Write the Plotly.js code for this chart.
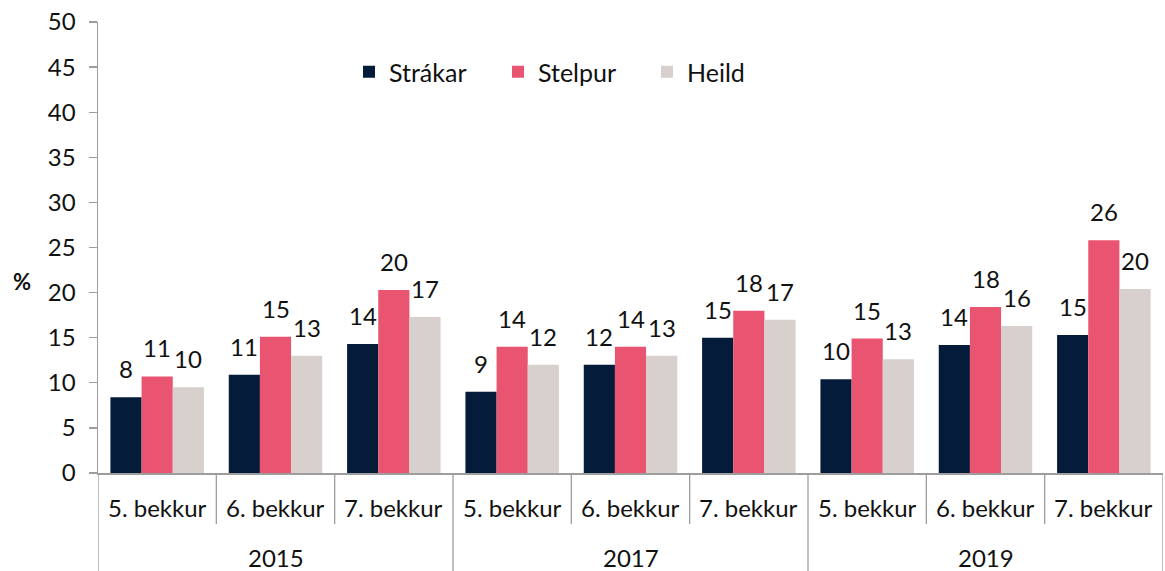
<!DOCTYPE html>
<html>
<head>
<meta charset="utf-8">
<script src="https://cdn.plot.ly/plotly-3.0.1.min.js"></script>
<style>html,body{margin:0;padding:0;background:#fff;}#chart{width:1165px;height:571px;}</style>
</head>
<body>
<div id="chart"></div>
<script>
const years = ["2015","2015","2015","2017","2017","2017","2019","2019","2019"];
const grades = ["5. bekkur","6. bekkur","7. bekkur","5. bekkur","6. bekkur","7. bekkur","5. bekkur","6. bekkur","7. bekkur"];
const strakar = [8.4, 10.9, 14.3, 9.0, 12.0, 15.0, 10.4, 14.2, 15.3];
const stelpur = [10.7, 15.1, 20.3, 14.0, 14.0, 18.0, 14.9, 18.4, 25.8];
const heild = [9.5, 13.0, 17.3, 12.0, 13.0, 17.0, 12.6, 16.3, 20.4];
const seriesNames = ["Strákar","Stelpur","Heild"];
const colors = ["#051b3a","#e95471","#d8d0cd"];

const FONT = "Lato, 'Open Sans', sans-serif";
const TXT = "#111111";
const AX = "#9d9d9d";
const FS = 24;
const BARGAP = 0.21;
const vals = [strakar, stelpur, heild];
const idx = grades.map((_,i)=>i);

const traces = vals.map((v,k)=>({
  type:"bar",
  name: seriesNames[k],
  x: idx,
  y: v,
  marker:{color:colors[k]},
  hoverinfo:"skip"
}));

const W=1165,H=571,ML=98,MR=2,MT=22,MB=98;
const plotH = H-MT-MB;

const annotations = [];
const barW = (1-BARGAP)/vals.length;
vals.forEach((v,k)=>{
  v.forEach((y,i)=>{
    annotations.push({x: i + (k-(vals.length-1)/2)*barW, y: y, xref:"x", yref:"y",
      text: String(Math.round(y)), showarrow:false, yanchor:"bottom", xanchor:"center", yshift:12,
      font:{family:FONT,size:FS,color:TXT}});
  });
});
grades.forEach((g,i)=>{
  annotations.push({x:i, y:-(507-(H-MB))/plotH, xref:"x", yref:"paper", text:g, showarrow:false,
    xanchor:"center", yanchor:"middle", font:{family:FONT,size:FS,color:TXT}});
});
const uniqYears = [...new Set(years)];
uniqYears.forEach(yv=>{
  const ids = idx.filter(i=>years[i]===yv);
  const c = (ids[0]+ids[ids.length-1])/2;
  annotations.push({x:c, y:-(557-(H-MB))/plotH, xref:"x", yref:"paper", text:yv, showarrow:false,
    xanchor:"center", yanchor:"middle", font:{family:FONT,size:FS,color:TXT}});
});
annotations.push({text:"<b>%</b>",xref:"paper",yref:"paper",x:(22-ML)/(W-ML-MR),y:(H-MB-282)/plotH,
  xanchor:"center",yanchor:"middle",showarrow:false,font:{family:FONT,size:22,color:TXT}});

const shapes = [];
for(let i=0;i<=grades.length;i++){
  const xb = i-0.5;
  const isYear = (i===0 || i===grades.length || years[i]!==years[i-1]);
  shapes.push({type:"line",xref:"x",yref:"paper",x0:xb,x1:xb,y0:0,
    y1: isYear ? -MB/plotH : -(524-(H-MB))/plotH, line:{color:AX,width:1.3}});
}

const layout = {
  width:W, height:H,
  margin:{l:ML,r:MR,t:MT,b:MB},
  paper_bgcolor:"#fff", plot_bgcolor:"#fff",
  font:{family:FONT,size:FS,color:TXT},
  barmode:"group",
  bargap:BARGAP,
  bargroupgap:0,
  showlegend:true,
  legend:{orientation:"h",x:(349-ML)/(W-ML-MR),y:(H-MB-72)/plotH,xanchor:"left",yanchor:"middle",
    font:{family:FONT,size:25,color:TXT},entrywidth:104,entrywidthmode:"pixels",
    itemclick:false,bgcolor:"rgba(0,0,0,0)",borderwidth:0},
  xaxis:{type:"linear",range:[-0.5,grades.length-0.5],showticklabels:false,ticks:"",
    showline:true,linecolor:AX,linewidth:1.5,showgrid:false,zeroline:false,fixedrange:true},
  yaxis:{range:[0,50],dtick:5,showline:true,linecolor:AX,linewidth:1.5,
    ticks:"outside",ticklen:8,tickcolor:AX,tickwidth:1.3,ticklabelstandoff:8,
    tickfont:{family:FONT,size:FS,color:TXT},showgrid:false,zeroline:false,fixedrange:true},
  annotations: annotations,
  shapes: shapes
};
Plotly.newPlot("chart",traces,layout,{displayModeBar:false,staticPlot:true});
</script>
</body>
</html>
